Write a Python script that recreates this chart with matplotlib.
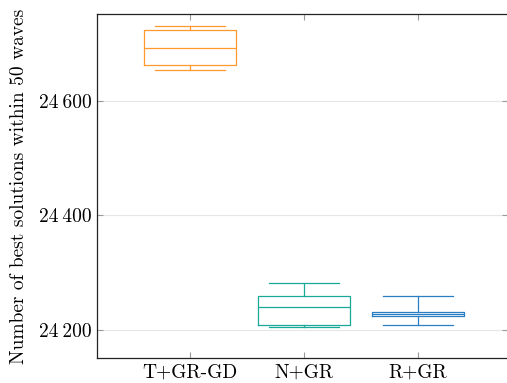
import matplotlib
matplotlib.use('Agg')
import matplotlib.pyplot as plt

plt.rcParams['font.family'] = ['cmr10', 'DejaVu Serif']
plt.rcParams['mathtext.fontset'] = 'cm'
plt.rcParams['axes.unicode_minus'] = False

methods = ['T+GR-GD', 'N+GR', 'R+GR']
whislo = [24654, 24205, 24209]
q1 = [24663, 24209, 24224]
med = [24693, 24240, 24228]
q3 = [24724, 24259, 24231]
whishi = [24731, 24282, 24259]
colors = ['#ff9a2e', '#1aa898', '#2a7fc4']

yticks = [24200, 24400, 24600]
ylabels = ['24\u2009200', '24\u2009400', '24\u2009600']

fig = plt.figure(figsize=(5.07, 3.83), dpi=100)
ax = fig.add_axes([97/507, 1-358/383, 1.002-97/507, (358-14)/383])

stats = []
for i in range(len(methods)):
    stats.append({'whislo': whislo[i], 'q1': q1[i], 'med': med[i],
                  'q3': q3[i], 'whishi': whishi[i], 'fliers': [], 'label': methods[i]})

for i, s in enumerate(stats):
    c = colors[i]
    ax.bxp([s], positions=[i+1], widths=0.8, showfliers=False,
           boxprops=dict(color=c, lw=0.9),
           medianprops=dict(color=c, lw=0.9),
           whiskerprops=dict(color=c, lw=0.9),
           capprops=dict(color=c, lw=0.9),
           capwidths=0.62, manage_ticks=False)

ax.set_xlim(0.184, 3.79)
ax.set_ylim(24151, 24752)
ax.set_xticks([1, 2, 3])
ax.set_xticklabels(methods)
ax.set_yticks(yticks)
ax.set_yticklabels(ylabels)
ax.grid(axis='y', color='#e6e6e6', lw=0.8)
ax.set_axisbelow(True)
ax.tick_params(direction='in', length=4, color='#999999', top=True, right=True,
               labelsize=14, pad=4)
for sp in ax.spines.values():
    sp.set_color('#222222')
    sp.set_linewidth(0.9)
ax.set_ylabel('Number of best solutions within 50 waves', fontsize=14, labelpad=8)

fig.savefig('out.png', dpi=100)
